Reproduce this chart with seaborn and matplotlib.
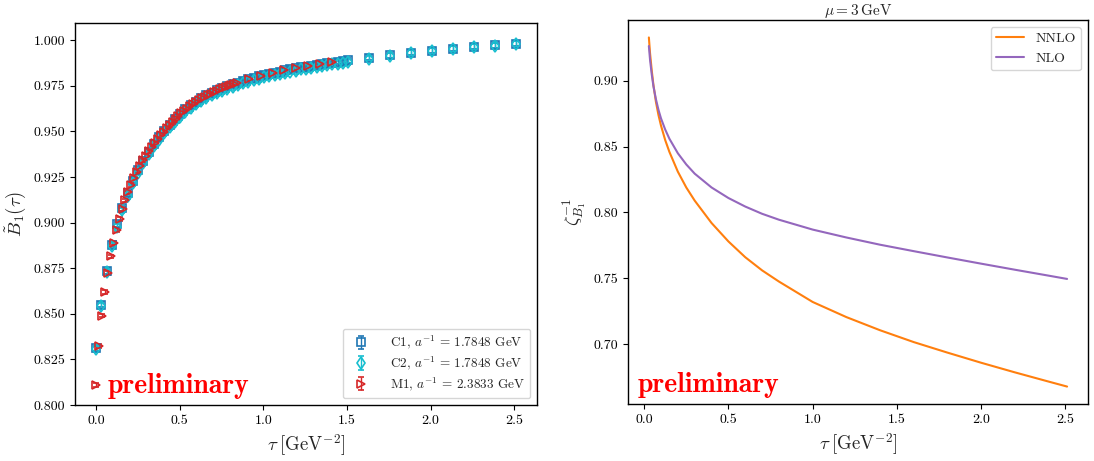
"""
B1(tau) lattice data (left) and zeta_B1^-1 matching factor (right)
"""

import matplotlib
matplotlib.use('Agg')
import matplotlib.pyplot as plt
import pandas as pd
import seaborn as sns

# ---- left panel: lattice data -------------------------------------------
TAU_C = [0.0000, 0.0314, 0.0628, 0.0942, 0.1256, 0.1570, 0.1884, 0.2198,
         0.2511, 0.2825, 0.3139, 0.3453, 0.3767, 0.4081, 0.4395, 0.4709,
         0.5023, 0.5337, 0.5651, 0.5965, 0.6279, 0.6593, 0.6906, 0.7220,
         0.7534, 0.7848, 0.8162, 0.8476, 0.8790, 0.9104, 0.9418, 0.9732,
         1.0046, 1.0360, 1.0674, 1.0988, 1.1301, 1.1615, 1.1929, 1.2243,
         1.2557, 1.2871, 1.3185, 1.3499, 1.3813, 1.4127, 1.4441, 1.4755,
         1.5069, 1.6324, 1.7580, 1.8836, 2.0092, 2.1347, 2.2603, 2.3859,
         2.5114]

C1_B1 = [0.8310, 0.8550, 0.8735, 0.8880, 0.8990, 0.9080, 0.9160, 0.9230,
         0.9290, 0.9340, 0.9390, 0.9432, 0.9470, 0.9505, 0.9537, 0.9567,
         0.9595, 0.9621, 0.9644, 0.9664, 0.9682, 0.9698, 0.9712, 0.9725,
         0.9737, 0.9748, 0.9758, 0.9768, 0.9777, 0.9786, 0.9794, 0.9802,
         0.9809, 0.9816, 0.9823, 0.9829, 0.9835, 0.9841, 0.9846, 0.9851,
         0.9856, 0.9861, 0.9866, 0.9870, 0.9874, 0.9878, 0.9882, 0.9886,
         0.9890, 0.9904, 0.9919, 0.9932, 0.9944, 0.9955, 0.9965, 0.9973,
         0.9981]

C2_B1 = [0.8305, 0.8545, 0.8728, 0.8870, 0.8978, 0.9067, 0.9146, 0.9215,
         0.9275, 0.9326, 0.9376, 0.9418, 0.9456, 0.9491, 0.9523, 0.9553,
         0.9581, 0.9607, 0.9630, 0.9650, 0.9668, 0.9684, 0.9698, 0.9711,
         0.9723, 0.9734, 0.9745, 0.9755, 0.9764, 0.9773, 0.9781, 0.9789,
         0.9797, 0.9804, 0.9811, 0.9817, 0.9823, 0.9829, 0.9834, 0.9840,
         0.9845, 0.9850, 0.9855, 0.9859, 0.9864, 0.9868, 0.9872, 0.9876,
         0.9880, 0.9900, 0.9916, 0.9930, 0.9942, 0.9953, 0.9963, 0.9971,
         0.9979]

TAU_M = [0.0000, 0.0176, 0.0352, 0.0528, 0.0704, 0.0880, 0.1056, 0.1232,
         0.1408, 0.1584, 0.1761, 0.1937, 0.2113, 0.2289, 0.2465, 0.2641,
         0.2817, 0.2993, 0.3169, 0.3345, 0.3521, 0.3697, 0.3873, 0.4049,
         0.4225, 0.4401, 0.4577, 0.4753, 0.4929, 0.5105, 0.5282, 0.5458,
         0.5634, 0.5810, 0.5986, 0.6162, 0.6338, 0.6514, 0.6690, 0.6866,
         0.7042, 0.7218, 0.7394, 0.7570, 0.7746, 0.7922, 0.8098, 0.8274,
         0.8450, 0.9155, 0.9859, 1.0563, 1.1267, 1.1971, 1.2676, 1.3380,
         1.4084]

M1_B1 = [0.8110, 0.8325, 0.8490, 0.8620, 0.8725, 0.8815, 0.8890, 0.8960,
         0.9020, 0.9075, 0.9122, 0.9166, 0.9207, 0.9245, 0.9280, 0.9312,
         0.9341, 0.9368, 0.9393, 0.9417, 0.9439, 0.9460, 0.9480, 0.9499,
         0.9518, 0.9535, 0.9552, 0.9568, 0.9584, 0.9599, 0.9613, 0.9626,
         0.9639, 0.9651, 0.9662, 0.9672, 0.9682, 0.9691, 0.9700, 0.9708,
         0.9716, 0.9724, 0.9731, 0.9738, 0.9744, 0.9750, 0.9756, 0.9762,
         0.9767, 0.9788, 0.9807, 0.9823, 0.9837, 0.9849, 0.9860, 0.9870,
         0.9879]

C1_ERR = 0.0014
C2_ERR = 0.0016
M1_ERR = 0.0010

# ---- right panel: matching factor at mu = 3 GeV --------------------------
TAU_Z = [0.028, 0.035, 0.045, 0.055, 0.070, 0.085, 0.100, 0.125, 0.150,
         0.200, 0.250, 0.300, 0.400, 0.500, 0.600, 0.700, 0.800, 1.000,
         1.200, 1.400, 1.600, 1.800, 2.000, 2.200, 2.400, 2.510]

ZETA_NNLO = [0.9330, 0.9210, 0.9080, 0.8970, 0.8840, 0.8740, 0.8660, 0.8550,
             0.8460, 0.8310, 0.8190, 0.8090, 0.7920, 0.7780, 0.7660, 0.7560,
             0.7475, 0.7320, 0.7205, 0.7105, 0.7015, 0.6935, 0.6858, 0.6785,
             0.6715, 0.6677]

ZETA_NLO = [0.9265, 0.9160, 0.9050, 0.8960, 0.8860, 0.8780, 0.8715, 0.8630,
            0.8560, 0.8450, 0.8365, 0.8295, 0.8190, 0.8110, 0.8045, 0.7990,
            0.7945, 0.7870, 0.7810, 0.7755, 0.7706, 0.7658, 0.7611, 0.7565,
            0.7520, 0.7495]

sns.set_style('ticks')
plt.rcParams['font.family'] = ['cmr10', 'DejaVu Serif']
plt.rcParams['mathtext.fontset'] = 'cm'
plt.rcParams['axes.formatter.use_mathtext'] = True
plt.rcParams['axes.edgecolor'] = 'black'
plt.rcParams['axes.linewidth'] = 1.0
plt.rcParams['xtick.color'] = 'black'
plt.rcParams['ytick.color'] = 'black'
plt.rcParams['xtick.major.size'] = 3.5
plt.rcParams['ytick.major.size'] = 3.5
plt.rcParams['xtick.labelsize'] = 10
plt.rcParams['ytick.labelsize'] = 10

fig = plt.figure(figsize=(10.94, 4.61), dpi=100)
ax_l = fig.add_axes([0.0686, 0.1215, 0.4223, 0.8286])
ax_r = fig.add_axes([0.574, 0.1236, 0.4205, 0.8330])

# Left: lattice B1 with error bars, open markers
series = [
    ('C1, $a^{-1}$ = 1.7848 GeV', TAU_C, C1_B1, C1_ERR, 's', 'tab:blue'),
    ('C2, $a^{-1}$ = 1.7848 GeV', TAU_C, C2_B1, C2_ERR, 'd', 'tab:cyan'),
    ('M1, $a^{-1}$ = 2.3833 GeV', TAU_M, M1_B1, M1_ERR, '>', 'tab:red'),
]
for label, tau, val, err, marker, color in series:
    ax_l.errorbar(tau, val, yerr=err, fmt=marker, color=color,
                  mfc='none', mec=color, ms=6, mew=1.2, elinewidth=1.0,
                  capsize=2.5, capthick=1.0, label=label)

ax_l.set_ylim(0.800, 1.0095)
ax_l.set_yticks([0.800, 0.825, 0.850, 0.875, 0.900, 0.925, 0.950, 0.975, 1.000])
ax_l.set_yticklabels(['0.800', '0.825', '0.850', '0.875', '0.900', '0.925',
                      '0.950', '0.975', '1.000'])
ax_l.set_xticks([0.0, 0.5, 1.0, 1.5, 2.0, 2.5])
ax_l.set_xticklabels(['0.0', '0.5', '1.0', '1.5', '2.0', '2.5'])
ax_l.set_xlabel(r'$\tau\;[\mathrm{GeV}^{-2}]$', fontsize=13.5)
ax_l.set_ylabel(r'$\tilde{B}_1(\tau)$', fontsize=13.5)
ax_l.legend(loc='lower right', fontsize=9.5, handletextpad=1.2,
            labelspacing=0.25, borderpad=0.4)
ax_l.text(0.07, 0.05, 'preliminary', transform=ax_l.transAxes,
          color='red', fontsize=20, family='cmb10', va='center')

# Right: matching factor curves
zeta_df = pd.DataFrame({
    'tau': TAU_Z * 2,
    'zeta': ZETA_NNLO + ZETA_NLO,
    'order': ['NNLO'] * len(TAU_Z) + ['NLO'] * len(TAU_Z),
})
sns.lineplot(data=zeta_df, x='tau', y='zeta', hue='order', ax=ax_r,
             palette={'NNLO': 'tab:orange', 'NLO': 'tab:purple'},
             linewidth=1.5, sort=False, estimator=None)

ax_r.set_yticks([0.70, 0.75, 0.80, 0.85, 0.90])
ax_r.set_yticklabels(['0.70', '0.75', '0.80', '0.85', '0.90'])
ax_r.set_xticks([0.0, 0.5, 1.0, 1.5, 2.0, 2.5])
ax_r.set_xticklabels(['0.0', '0.5', '1.0', '1.5', '2.0', '2.5'])
ax_r.set_xlabel(r'$\tau\;[\mathrm{GeV}^{-2}]$', fontsize=13.5)
ax_r.set_ylabel(r'$\zeta_{B_1}^{-1}$', fontsize=13.5)
ax_r.set_title(r'$\mu = 3\,\mathrm{GeV}$', fontsize=11, pad=3)
ax_r.legend(title=None, loc='upper right', fontsize=10)
ax_r.text(0.022, 0.05, 'preliminary', transform=ax_r.transAxes,
          color='red', fontsize=20, family='cmb10', va='center')

fig.savefig('out.png', dpi=100)
